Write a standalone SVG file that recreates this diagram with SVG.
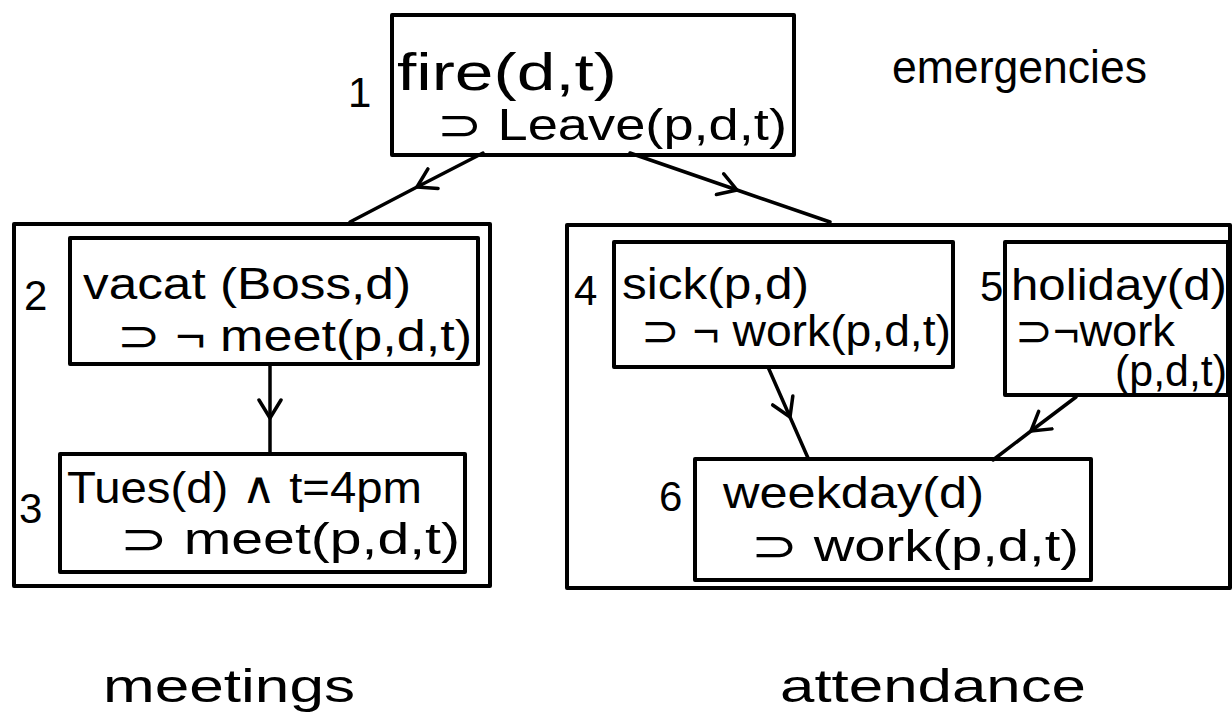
<svg xmlns="http://www.w3.org/2000/svg" width="1232" height="724" viewBox="0 0 1232 724">
<style>
.box{fill:none;stroke:#000;stroke-width:4;stroke-linejoin:round}
.t{font-family:"Liberation Sans","DejaVu Sans",sans-serif;font-size:44px;fill:#000}
.big{font-size:52px}
.n{font-family:"Liberation Sans","DejaVu Sans",sans-serif;font-size:42px;fill:#000}
.lab{font-family:"Liberation Sans","DejaVu Sans",sans-serif;font-size:46px;fill:#000}
.c{fill:none;stroke:#000;stroke-width:3.5;stroke-linecap:round;stroke-linejoin:round}
</style>
<defs>
<marker id="v" markerUnits="userSpaceOnUse" markerWidth="40" markerHeight="40" viewBox="-20 -20 40 40" refX="0" refY="0" orient="auto">
<path d="M -18 -11 L 0 0 L -18 11" fill="none" stroke="#000" stroke-width="3.5" stroke-linecap="round" stroke-linejoin="round"/>
</marker>
</defs>
<rect width="1232" height="724" fill="#fff"/>

<g id="group-meetings">
<rect class="box" x="14" y="224" width="476" height="362"/>
<text class="lab" x="103" y="702" textLength="252" lengthAdjust="spacingAndGlyphs">meetings</text>
</g>
<g id="group-attendance">
<rect class="box" x="567" y="225" width="663" height="363"/>
<text class="lab" x="780" y="702" textLength="306" lengthAdjust="spacingAndGlyphs">attendance</text>
</g>
<g id="label-emergencies">
<text class="lab" x="892" y="83" textLength="255" lengthAdjust="spacingAndGlyphs">emergencies</text>
</g>

<g id="connectors">
<path class="c" d="M 483 153 L 417 187 L 350 222" marker-mid="url(#v)"/>
<path class="c" d="M 630 153 L 737 190 L 830 222" marker-mid="url(#v)"/>
<path class="c" d="M 270 364 L 270 418 L 270 453" marker-mid="url(#v)"/>
<path class="c" d="M 768 367 L 790 417 L 808 458" marker-mid="url(#v)"/>
<path class="c" d="M 1076 397 L 1031 431 L 993 460" marker-mid="url(#v)"/>
</g>

<g id="node1">
<rect class="box" x="392" y="15" width="402" height="140"/>
<text class="n" x="348" y="107">1</text>
<text class="t big" x="397" y="90" textLength="220" lengthAdjust="spacingAndGlyphs">fire(d,t)</text>
<text class="t" x="437" y="140" textLength="350" lengthAdjust="spacingAndGlyphs">⊃ Leave(p,d,t)</text>
</g>

<g id="node2">
<rect class="box" x="70" y="238" width="408" height="126"/>
<text class="n" x="24" y="310">2</text>
<text class="t" x="83" y="299" textLength="328" lengthAdjust="spacingAndGlyphs">vacat (Boss,d)</text>
<text class="t" x="117" y="351" textLength="355" lengthAdjust="spacingAndGlyphs">⊃ ¬ meet(p,d,t)</text>
</g>

<g id="node3">
<rect class="box" x="60" y="454" width="405" height="118"/>
<text class="n" x="19" y="523">3</text>
<text class="t" x="67" y="503" textLength="355" lengthAdjust="spacingAndGlyphs">Tues(d) ∧ t=4pm</text>
<text class="t" x="120" y="554" textLength="340" lengthAdjust="spacingAndGlyphs">⊃ meet(p,d,t)</text>
</g>

<g id="node4">
<rect class="box" x="614" y="242" width="339" height="125"/>
<text class="n" x="574" y="305">4</text>
<text class="t" x="622" y="299" textLength="187" lengthAdjust="spacingAndGlyphs">sick(p,d)</text>
<text class="t" x="641" y="346" textLength="310" lengthAdjust="spacingAndGlyphs">⊃ ¬ work(p,d,t)</text>
</g>

<g id="node5">
<rect class="box" x="1005" y="242" width="223" height="153"/>
<text class="n" x="980" y="301">5</text>
<text class="t" x="1011" y="300" textLength="216" lengthAdjust="spacingAndGlyphs">holiday(d)</text>
<text class="t" x="1015" y="346" textLength="160" lengthAdjust="spacingAndGlyphs">⊃¬work</text>
<text class="t" x="1115" y="386" textLength="112" lengthAdjust="spacingAndGlyphs">(p,d,t)</text>
</g>

<g id="node6">
<rect class="box" x="695" y="459" width="396" height="121"/>
<text class="n" x="659" y="511">6</text>
<text class="t" x="723" y="508" textLength="261" lengthAdjust="spacingAndGlyphs">weekday(d)</text>
<text class="t" x="751" y="561" textLength="328" lengthAdjust="spacingAndGlyphs">⊃  work(p,d,t)</text>
</g>
</svg>
